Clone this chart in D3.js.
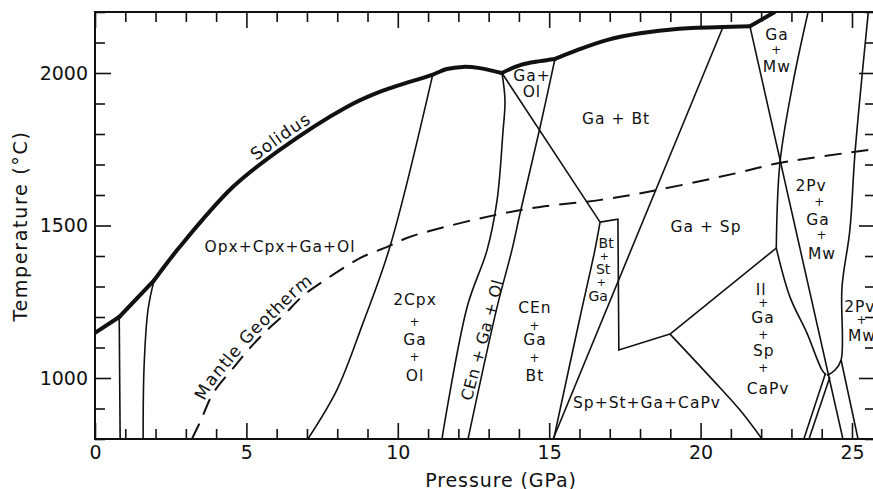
<!DOCTYPE html>
<html>
<head>
<meta charset="utf-8">
<script src="https://cdn.jsdelivr.net/npm/d3@7"></script>
<style>
body { margin: 0; background: #fff; }
text { font-family: "DejaVu Sans", sans-serif; fill: #111; }
</style>
</head>
<body>
<div id="chart-area"></div>
<script>
var margin = {"left": 95, "right": 0, "top": 12, "bottom": 50}

const WIDTH = 873
const HEIGHT = 489
// right frame sits just past the edge of the page, like the scan
const GRAPH_WIDTH = 780
const GRAPH_HEIGHT = 427

// axes
var pressureDomain = [0, 25.76]
var tempDomain = [800, 2200]
var xMajor = [0, 5, 10, 15, 20, 25]
var yMajor = [1000, 1500, 2000]

// solidus, [pressure GPa, temperature C]
var solidus = [[0,1148],[0.8,1200],[1.95,1320],[2.8,1430],[4.55,1626],[6.1,1748],[8.3,1888],
    [9.4,1938],[11.16,1995],[11.62,2013],[12.15,2020],[12.71,2016],[13.14,2007],[13.44,2000],
    [14.04,2026],[14.7,2039],[15.19,2046],[15.92,2075],[16.9,2108],[18.0,2130],[19.3,2145],
    [20.74,2151],[21.63,2153],[22.45,2200]]
var solidusKinks = [0.8, 1.95, 13.44, 15.19, 20.74, 21.63]

// mantle geotherm
var geoP = [3.2,3.5,3.9,4.65,5.15,5.65,6.25,6.85,7.55,8.75,9.65,10.3,11.05,13.2,14.7,16.7,18.55,21.2,22.6,25.76]
var geoT = [800,862,950,1043,1102,1154,1208,1268,1318,1393,1430,1459,1482,1534,1561,1584,1616,1672,1705,1750]

// phase boundaries that bend
var curved = [
    [[1.95,1320],[1.75,1223],[1.62,1035],[1.59,800]],
    [[11.16,1997],[9.74,1430],[8.85,1180],[7.99,961],[7.03,800]],
    [[13.44,2000],[13.54,1911],[13.47,1803],[13.28,1584],[12.95,1420],[12.29,1233],[11.46,800]],
    [[15.19,2046],[14.7,1823],[14.04,1541],[13.77,1420],[13.28,1233],[12.32,800]],
    [[16.68,1511],[16.51,1420],[16.02,1200],[15.15,800]],
    [[18.99,1144],[20.41,993],[21.3,895],[22.03,800]],
    [[23.55,2200],[23.05,1967],[22.62,1705],[22.5,1426]],
    [[22.5,1426],[22.95,1266],[23.51,1148],[24.01,1026],[24.15,1010]],
    [[25.54,2200],[25.1,1738],[24.93,1485],[24.67,1298],[24.64,1059],[24.44,1026],[24.18,1008]]
]
// straight boundaries (polylines)
var straight = [
    [[0.8,1200],[0.83,800]],
    [[13.44,2000],[16.68,1511]],
    [[16.68,1511],[17.27,1521],[17.3,1092],[18.99,1144]],
    [[20.74,2151],[15.13,800]],
    [[18.99,1144],[22.5,1426]],
    [[21.63,2153],[24.7,800]],
    [[24.64,1059],[25.2,800]],
    [[24.12,1014],[23.41,800]],
    [[24.27,1003],[23.58,800]]
]

// field labels
var labelText = ["Opx+Cpx+Ga+Ol","2Cpx","+","Ga","+","Ol","CEn","+","Ga","+","Bt","Ga+","Ol",
    "Ga + Bt","Ga + Sp","Sp+St+Ga+CaPv","Il","+","Ga","+","Sp","+","CaPv",
    "Ga","+","Mw","2Pv","+","Ga","+","Mw","2Pv","+","Mw"]
var labelP = [6.11,10.57,10.57,10.57,10.57,10.57,14.53,14.53,14.53,14.53,14.53,14.43,14.43,
    17.21,20.18,18.23,22.0,22.09,22.06,22.09,22.09,22.09,22.23,
    22.52,22.52,22.52,23.65,23.94,23.88,24.01,24.01,25.26,25.33,25.33]
var labelT = [1430,1259,1184,1128,1069,1007,1230,1170,1125,1066,1010,1992,1939,
    1852,1498,921,1289,1246,1197,1141,1092,1033,967,
    2128,2075,2023,1630,1577,1521,1469,1410,1236,1190,1141]

// the narrow Bt + St + Ga strip, smaller lettering
var bandText = ["Bt","+","St","+","Ga"]
var bandP = [16.88,16.82,16.78,16.72,16.62]
var bandT = [1442,1400,1356,1313,1268]

// label written along the narrow CEn field
var slantText = "CEn + Ga + Ol"
var slantP = 12.78
var slantT = 1125

var svg = d3.select('#chart-area').append("svg")
    .attr("width", WIDTH)
    .attr("height", HEIGHT)
    .style("display", "block")

var g = svg.append("g")
    .attr("transform", "translate("+margin.left+","+margin.top+")")

var xScale = d3.scaleLinear()
    .domain(pressureDomain)
    .range([0, GRAPH_WIDTH])

var yScale = d3.scaleLinear()
    .domain(tempDomain)
    .range([GRAPH_HEIGHT, 0])

svg.append("defs").append("clipPath")
    .attr("id", "plot-clip")
    .append("rect")
    .attr("width", GRAPH_WIDTH)
    .attr("height", GRAPH_HEIGHT)

//ticks on all four sides, pointing inwards, long ones every 5 GPa / 500 C
var xTicks = d3.range(0, 26)
var yTicks = d3.range(800, 2201, 100)

function styleAxis(sel, major, isX, sign){
    sel.select(".domain").remove()
    sel.selectAll(".tick line")
        .attr("stroke", "#111")
        .attr("stroke-width", 1.6)
        .each(function(d){
            if(major.indexOf(d) >= 0)
                d3.select(this).attr(isX ? "y2" : "x2", sign * 16)
        })
    sel.attr("font-size", 19)
        .attr("font-family", "DejaVu Sans")
}

var bottomAxis = g.append("g")
    .attr("transform", "translate(0,"+GRAPH_HEIGHT+")")
    .call(d3.axisBottom(xScale).tickValues(xTicks).tickSizeInner(-10).tickSizeOuter(0)
        .tickPadding(7)
        .tickFormat(function(d){ return xMajor.indexOf(d) >= 0 ? d : "" }))
styleAxis(bottomAxis, xMajor, true, -1)

var topAxis = g.append("g")
    .call(d3.axisTop(xScale).tickValues(xTicks).tickSizeInner(-10).tickSizeOuter(0)
        .tickFormat(""))
styleAxis(topAxis, xMajor, true, 1)

var leftAxis = g.append("g")
    .call(d3.axisLeft(yScale).tickValues(yTicks).tickSizeInner(-10).tickSizeOuter(0)
        .tickPadding(7)
        .tickFormat(function(d){ return yMajor.indexOf(d) >= 0 ? d : "" }))
styleAxis(leftAxis, yMajor, false, 1)

var rightAxis = g.append("g")
    .attr("transform", "translate("+GRAPH_WIDTH+",0)")
    .call(d3.axisRight(yScale).tickValues(yTicks).tickSizeInner(-10).tickSizeOuter(0)
        .tickFormat(""))
styleAxis(rightAxis, yMajor, false, -1)

//frame
g.append("rect")
    .attr("width", GRAPH_WIDTH)
    .attr("height", GRAPH_HEIGHT)
    .attr("fill", "none")
    .attr("stroke", "#111")
    .attr("stroke-width", 2)

//x label
g.append("text")
    .attr("x", 406)
    .attr("y", 475)
    .attr("font-size", "19px")
    .attr("letter-spacing", "0.9px")
    .attr("text-anchor", "middle")
    .text("Pressure (GPa)")

//y label
g.append("text")
    .attr("transform", "rotate(-90)")
    .attr("x", -214)
    .attr("y", -68)
    .attr("font-size", "19px")
    .attr("letter-spacing", "1.7px")
    .attr("text-anchor", "middle")
    .text("Temperature (°C)")

var plot = g.append("g")
    .attr("clip-path", "url(#plot-clip)")

var curveLine = d3.line()
    .x(function(d){ return xScale(d[0]) })
    .y(function(d){ return yScale(d[1]) })
    .curve(d3.curveCatmullRom.alpha(0.5))

var straightLine = d3.line()
    .x(function(d){ return xScale(d[0]) })
    .y(function(d){ return yScale(d[1]) })

plot.selectAll(".curved")
    .data(curved)
    .enter()
    .append("path")
    .attr("class", "curved")
    .attr("d", curveLine)
    .attr("fill", "none")
    .attr("stroke", "#111")
    .attr("stroke-width", 1.6)

plot.selectAll(".straight")
    .data(straight)
    .enter()
    .append("path")
    .attr("class", "straight")
    .attr("d", straightLine)
    .attr("fill", "none")
    .attr("stroke", "#111")
    .attr("stroke-width", 1.6)
    .attr("stroke-linejoin", "miter")

//split solidus at its kinks so the corners stay sharp
var solidusPieces = []
var piece = []
solidus.forEach(function(p){
    piece.push(p)
    if(solidusKinks.indexOf(p[0]) >= 0){
        solidusPieces.push(piece)
        piece = [p]
    }
})
solidusPieces.push(piece)

plot.selectAll(".solidus")
    .data(solidusPieces)
    .enter()
    .append("path")
    .attr("class", "solidus")
    .attr("id", function(d, i){ return "solidus-" + i })
    .attr("d", curveLine)
    .attr("fill", "none")
    .attr("stroke", "#111")
    .attr("stroke-width", 4)
    .attr("stroke-linejoin", "round")
    .attr("stroke-linecap", "round")

var geotherm = geoP.map(function(p, i){ return [p, geoT[i]] })
var geoPath = plot.append("path")
    .attr("id", "geotherm")
    .attr("d", curveLine(geotherm))
    .attr("fill", "none")
    .attr("stroke", "#111")
    .attr("stroke-width", 2)
    .attr("stroke-dasharray", "17,10")

// path length where the path reaches a given x (paths run left to right)
function lengthAtX(node, px){
    var lo = 0, hi = node.getTotalLength()
    for(var i = 0; i < 40; i++){
        var mid = (lo + hi) / 2
        if(node.getPointAtLength(mid).x < px) lo = mid
        else hi = mid
    }
    return lo
}

g.append("text")
    .attr("font-size", "17px")
    .attr("letter-spacing", "0.8px")
    .attr("dy", -4)
    .append("textPath")
    .attr("href", "#geotherm")
    .attr("startOffset", lengthAtX(geoPath.node(), 113))
    .text("Mantle Geotherm")

var solidusNode = d3.select("#solidus-2").node()
g.append("text")
    .attr("font-size", "17px")
    .attr("letter-spacing", "1px")
    .attr("dy", -5)
    .append("textPath")
    .attr("href", "#solidus-2")
    .attr("startOffset", lengthAtX(solidusNode, 164))
    .text("Solidus")

//field labels
labelText.forEach(function(t, i){
    g.append("text")
        .attr("x", xScale(labelP[i]))
        .attr("y", yScale(labelT[i]))
        .attr("dy", "0.36em")
        .attr("text-anchor", "middle")
        .attr("font-size", t === "+" ? "12px" : "15.5px")
        .attr("letter-spacing", "1px")
        .text(t)
})

bandText.forEach(function(t, i){
    g.append("text")
        .attr("x", xScale(bandP[i]))
        .attr("y", yScale(bandT[i]))
        .attr("dy", "0.36em")
        .attr("text-anchor", "middle")
        .attr("font-size", t === "+" ? "11px" : "14px")
        .text(t)
})

g.append("text")
    .attr("transform", "translate("+xScale(slantP)+","+yScale(slantT)+") rotate(-75)")
    .attr("dy", "0.36em")
    .attr("text-anchor", "middle")
    .attr("font-size", "16px")
    .attr("letter-spacing", "0.5px")
    .text(slantText)
</script>
</body>
</html>
